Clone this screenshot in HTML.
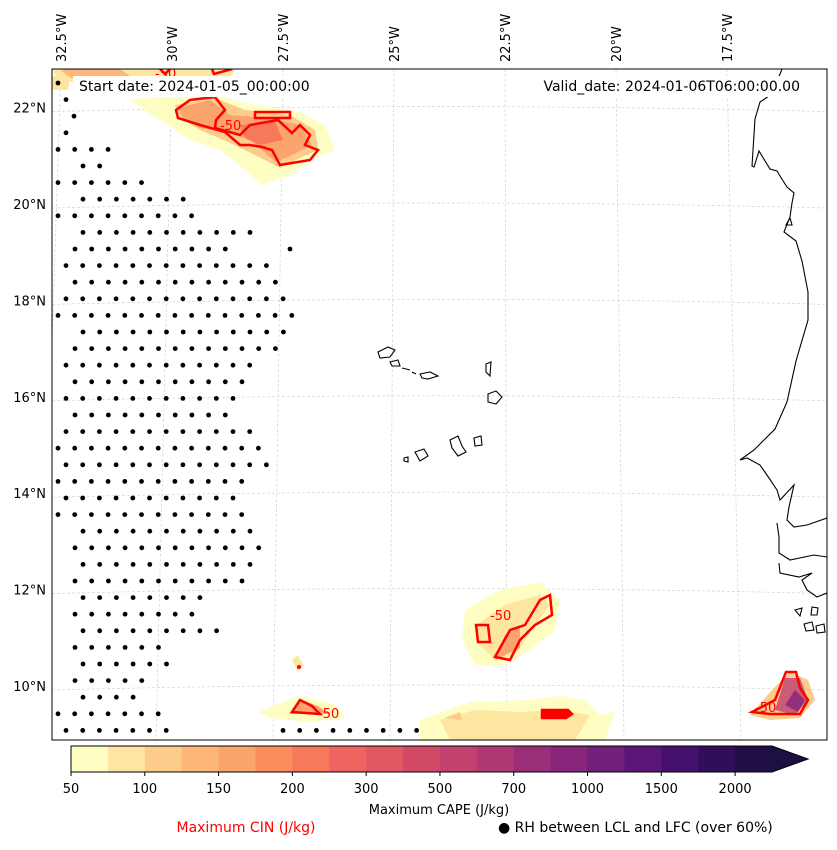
<!DOCTYPE html>
<html><head><meta charset="utf-8"><style>
body{margin:0;background:#fff;font-family:"Liberation Sans","DejaVu Sans",sans-serif;}
svg text{font-family:"DejaVu Sans","Liberation Sans",sans-serif;}
</style></head><body>
<svg id="chart" width="837" height="845" viewBox="0 0 837 845" xmlns="http://www.w3.org/2000/svg">
<defs><clipPath id="mapclip"><rect x="52" y="69" width="775" height="671"/></clipPath></defs>
<g clip-path="url(#mapclip)">
<g id="grid" stroke="#d4d4d4" stroke-width="0.7" stroke-dasharray="3,2" fill="none"></g>
<g>
 <path d="M52,69 L235,69 L230,80 L60,82 Z" fill="#fee5a0"/>
 <path d="M60,69 L120,69 L130,76 L70,78 Z" fill="#fdb77a"/>
 <path d="M52,76 L70,76 L68,90 L52,90 Z" fill="#fee5a0"/>
 <path d="M130,100 L175,95 L200,90 L240,102 L300,112 L325,125 L335,150 L310,160 L290,175 L262,185 L245,170 L220,150 L190,140 L175,130 Z" fill="#fffec2"/>
 <path d="M175,105 L215,98 L245,110 L290,115 L315,130 L318,150 L300,158 L280,168 L265,160 L235,145 L200,130 L180,118 Z" fill="#fdcb8a"/>
 <path d="M178,108 L210,100 L230,115 L270,118 L300,125 L312,145 L292,155 L276,162 L250,140 L225,132 L200,128 L183,118 Z" fill="#fca46d"/>
 <path d="M240,125 L275,122 L283,140 L260,145 L245,138 Z" fill="#f7795a"/>
 <path d="M465,610 L500,590 L540,582 L560,600 L555,630 L530,650 L505,665 L475,665 L462,640 Z" fill="#fffec2"/>
 <path d="M476,625 L505,605 L540,595 L550,605 L535,625 L515,655 L495,660 L480,645 Z" fill="#fee5a0"/>
 <path d="M495,660 L505,635 L520,625 L520,648 Z" fill="#fca46d"/>
 <path d="M292,660 L298,655 L303,665 L298,672 Z" fill="#fee5a0"/>
 <circle cx="299" cy="667" r="2" fill="#f00"/>
 <path d="M258,712 L300,696 L335,705 L345,718 L310,722 L270,718 Z" fill="#fffec2"/>
 <path d="M290,714 L302,700 L318,706 L330,714 Z" fill="#fca46d"/>
 <path d="M420,720 L470,702 L530,700 L560,696 L585,700 L600,715 L615,712 L605,740 L420,740 Z" fill="#fffec2"/>
 <path d="M440,720 L475,710 L520,712 L560,710 L590,715 L575,740 L450,740 Z" fill="#fee5a0"/>
 <path d="M445,718 L460,712 L462,720 Z" fill="#fdcb8a"/>
 <path d="M750,715 L772,690 L790,672 L808,680 L815,700 L800,718 L770,720 Z" fill="#fdcb8a"/>
 <path d="M775,710 L785,678 L800,678 L808,700 L795,715 Z" fill="#be3f70" opacity="0.8"/>
 <path d="M785,705 L795,690 L805,700 L798,712 Z" fill="#82247b" opacity="0.8"/>
</g>
<g fill="none" stroke="#f00" stroke-width="2.5">
 <path d="M176,110 L190,100 L215,97 L225,110 L216,120 L215,128 L240,135 L250,125 L278,120 L292,133 L300,125 L310,135 L305,145 L318,150 L310,160 L280,165 L272,150 L262,147 L250,145 L240,145 L225,132 L200,125 L178,118 Z"/>
 <path d="M255,112 L290,112 L290,118 L255,118 Z"/>
 <path d="M476,625 L488,625 L490,642 L478,642 Z"/>
 <path d="M495,657 L510,630 L525,625 L540,600 L550,595 L552,615 L535,625 L520,640 L510,660 Z"/>
 <path d="M292,712 L300,700 L312,706 L320,714 Z"/>
 <path d="M542,710 L568,710 L572,714 L566,718 L542,718 Z" fill="#f00"/>
 <path d="M752,712 L775,700 L786,672 L796,672 L800,688 L808,700 L800,714 L770,714 Z"/>
 <path d="M160,69 L165,74 L170,69"/>
 <path d="M212,69 L214,74 L232,69"/>
</g>
<g fill="#f00" font-size="13">
 <text x="220" y="130">-50</text><text x="490" y="620">-50</text><text x="318" y="718">-50</text><text x="755" y="712">-50</text><text x="155" y="78">-50</text>
</g>
<g id="dots" fill="#000"></g>
<g fill="none" stroke="#000" stroke-width="1.1">
 <path d="M782,69 L780,74 L769,96 L760,102 L755,119 L752,166 L754,167 L759,151 L770,169 L777,171 L780,176 L787,187 L794,193 L792,203 L790,217 L784,232 L796,241 L802,261 L808,292 L808,320 L796,361 L787,402 L775,429 L754,450 L740,460 L747,458 L760,465 L769,478 L777,490 L780,500 L794,485 L789,507 L787,520 L794,527 L807,525 L827,518"/>
 <path d="M777,523 L779,537 L779,553 L790,560 L814,555 L827,557"/>
 <path d="M779,563 L780,573 L799,577 L812,573 L802,580 L807,590 L817,597 L827,593"/>
 <path d="M790,218 L786,225 L792,225 Z"/>
 <path d="M795,610 L802,608 L800,616 Z"/><path d="M812,607 L818,608 L817,615 L811,615 Z"/><path d="M804,624 L812,622 L814,630 L806,631 Z"/><path d="M816,626 L824,624 L825,632 L817,633 Z"/>
 <path d="M378,352 L388,347 L395,350 L390,357 L380,358 Z"/>
 <path d="M390,362 L398,360 L400,366 L392,366 Z"/>
 <path d="M402,368 L410,370"/><path d="M412,372 L416,374"/>
 <path d="M420,374 L430,372 L438,376 L428,379 L422,378 Z"/>
 <path d="M486,364 L491,362 L490,376 L486,372 Z"/>
 <path d="M488,394 L496,391 L502,397 L496,404 L488,402 Z"/>
 <path d="M450,440 L458,436 L462,446 L466,452 L458,456 L452,448 Z"/>
 <path d="M474,438 L481,436 L482,445 L475,446 Z"/>
 <path d="M415,452 L424,449 L428,456 L420,461 Z"/>
 <path d="M404,458 L408,457 L408,462 L404,461 Z"/>
</g>
</g>
<rect x="52" y="69" width="775" height="671" fill="none" stroke="#000" stroke-width="1"/>
<rect x="73" y="76" width="241" height="21" fill="#fff"/>
<rect x="539" y="76" width="267" height="21" fill="#fff"/>
<text x="79" y="91" font-size="14">Start date: 2024-01-05_00:00:00</text>
<text x="800" y="91" font-size="14" text-anchor="end">Valid_date: 2024-01-06T06:00:00.00</text>
<g id="lonlabels" font-size="13"></g>
<g id="latlabels" font-size="13" text-anchor="end"></g>
<g id="cbar"></g>
<text x="439" y="814" font-size="13" text-anchor="middle">Maximum CAPE (J/kg)</text>
<text x="246" y="832" font-size="14" text-anchor="middle" fill="#f00">Maximum CIN (J/kg)</text>
<text x="498" y="832" font-size="14">● RH between LCL and LFC (over 60%)</text>
</svg>
<script>
const NS="http://www.w3.org/2000/svg";
const lonLabels=["32.5°W","30°W","27.5°W","25°W","22.5°W","20°W","17.5°W"];
const lonValues=[-32.5,-30,-27.5,-25,-22.5,-20,-17.5];
const latLabels=["22°N","20°N","18°N","16°N","14°N","12°N","10°N"];
const latValues=[22,20,18,16,14,12,10];
const cbarTicks=["50","100","150","200","300","500","700","1000","1500","2000"];
const cbarColors=["#fffec2","#fee5a0","#fdcb8a","#fdb77a","#fca46d","#fb8c5e","#f7795a","#ef6360","#e15762","#d24a68","#c3416e","#b03874","#9b2e78","#87267b","#71207c","#5c167a","#461071","#300e5a","#1f0f44"];
const dotRowIndex=[0,1,2,3,4,5,6,7,8,9,10,11,12,13,14,15,16,17,18,19,20,21,22,23,24,25,26,27,28,29,30,31,32,33,34,35,36,37,38,39,39,10];
const dotRowStart=[58,66,74,66,58,83,58,83,58,83,75,66,75,66,58,83,75,66,75,66,75,66,58,66,58,66,58,83,75,83,75,83,75,83,75,83,75,83,58,66,283,290];
const dotRowEnd=[60,68,76,68,108,100,142,183,192,250,225,266,290,298,298,290,290,258,250,234,234,258,274,266,242,234,250,258,266,250,242,200,192,217,158,167,142,133,158,167,417,292];
function xLon(lon,y){const top=394+(lon+25)*44.4;return top+((y-69)/671)*(-4+(lon+25)*2.4);}
function yLat(lat){return 686-(lat-10)*48.2;}
const grid=document.getElementById('grid');
lonValues.forEach(v=>{const p=document.createElementNS(NS,'line');


p.setAttribute('x1',xLon(v,69));p.setAttribute('y1',69);p.setAttribute('x2',xLon(v,740));p.setAttribute('y2',740);grid.appendChild(p);});
latValues.forEach(v=>{const p=document.createElementNS(NS,'path');


const y=yLat(v);p.setAttribute('d',`M52,${y+4} Q440,${y-6} 827,${y+4}`);grid.appendChild(p);});
const ll=document.getElementById('lonlabels');
lonLabels.forEach((t,i)=>{const x=394+(lonValues[i]+25)*44.4+5;const e=document.createElementNS(NS,'text');


e.setAttribute('transform',`translate(${x},62) rotate(-90)`);e.textContent=t;ll.appendChild(e);});
const la=document.getElementById('latlabels');
latLabels.forEach((t,i)=>{const e=document.createElementNS(NS,'text');


e.setAttribute('x',46);e.setAttribute('y',yLat(latValues[i])+5);e.textContent=t;la.appendChild(e);});
const dots=document.getElementById('dots');
dotRowStart.forEach((s,i)=>{const y=83+dotRowIndex[i]*16.6;for(let x=s;x<=dotRowEnd[i]+1;x+=16.7){const c=document.createElementNS(NS,'circle');


c.setAttribute('cx',x);c.setAttribute('cy',y);c.setAttribute('r',2.4);dots.appendChild(c);}});
const cb=document.getElementById('cbar');const bw=701/cbarColors.length;
cbarColors.forEach((c,i)=>{const r=document.createElementNS(NS,'rect');


r.setAttribute('x',71+i*bw);r.setAttribute('y',746);r.setAttribute('width',bw+0.5);r.setAttribute('height',26);r.setAttribute('fill',c);cb.appendChild(r);});
const tri=document.createElementNS(NS,'path');


tri.setAttribute('d','M772,746 L808,759 L772,772 Z');tri.setAttribute('fill','#1c1040');cb.appendChild(tri);
const ol=document.createElementNS(NS,'path');


ol.setAttribute('d','M71,746 L772,746 L808,759 L772,772 L71,772 Z');ol.setAttribute('fill','none');ol.setAttribute('stroke','#000');cb.appendChild(ol);
cbarTicks.forEach((t,i)=>{const x=71+i*2*bw;const l=document.createElementNS(NS,'line');


l.setAttribute('x1',x);l.setAttribute('x2',x);l.setAttribute('y1',772);l.setAttribute('y2',776);l.setAttribute('stroke','#000');cb.appendChild(l);
const e=document.createElementNS(NS,'text');


e.setAttribute('x',x);e.setAttribute('y',793);e.setAttribute('font-size','13');e.setAttribute('text-anchor','middle');e.textContent=t;cb.appendChild(e);});
</script>
</body></html>
